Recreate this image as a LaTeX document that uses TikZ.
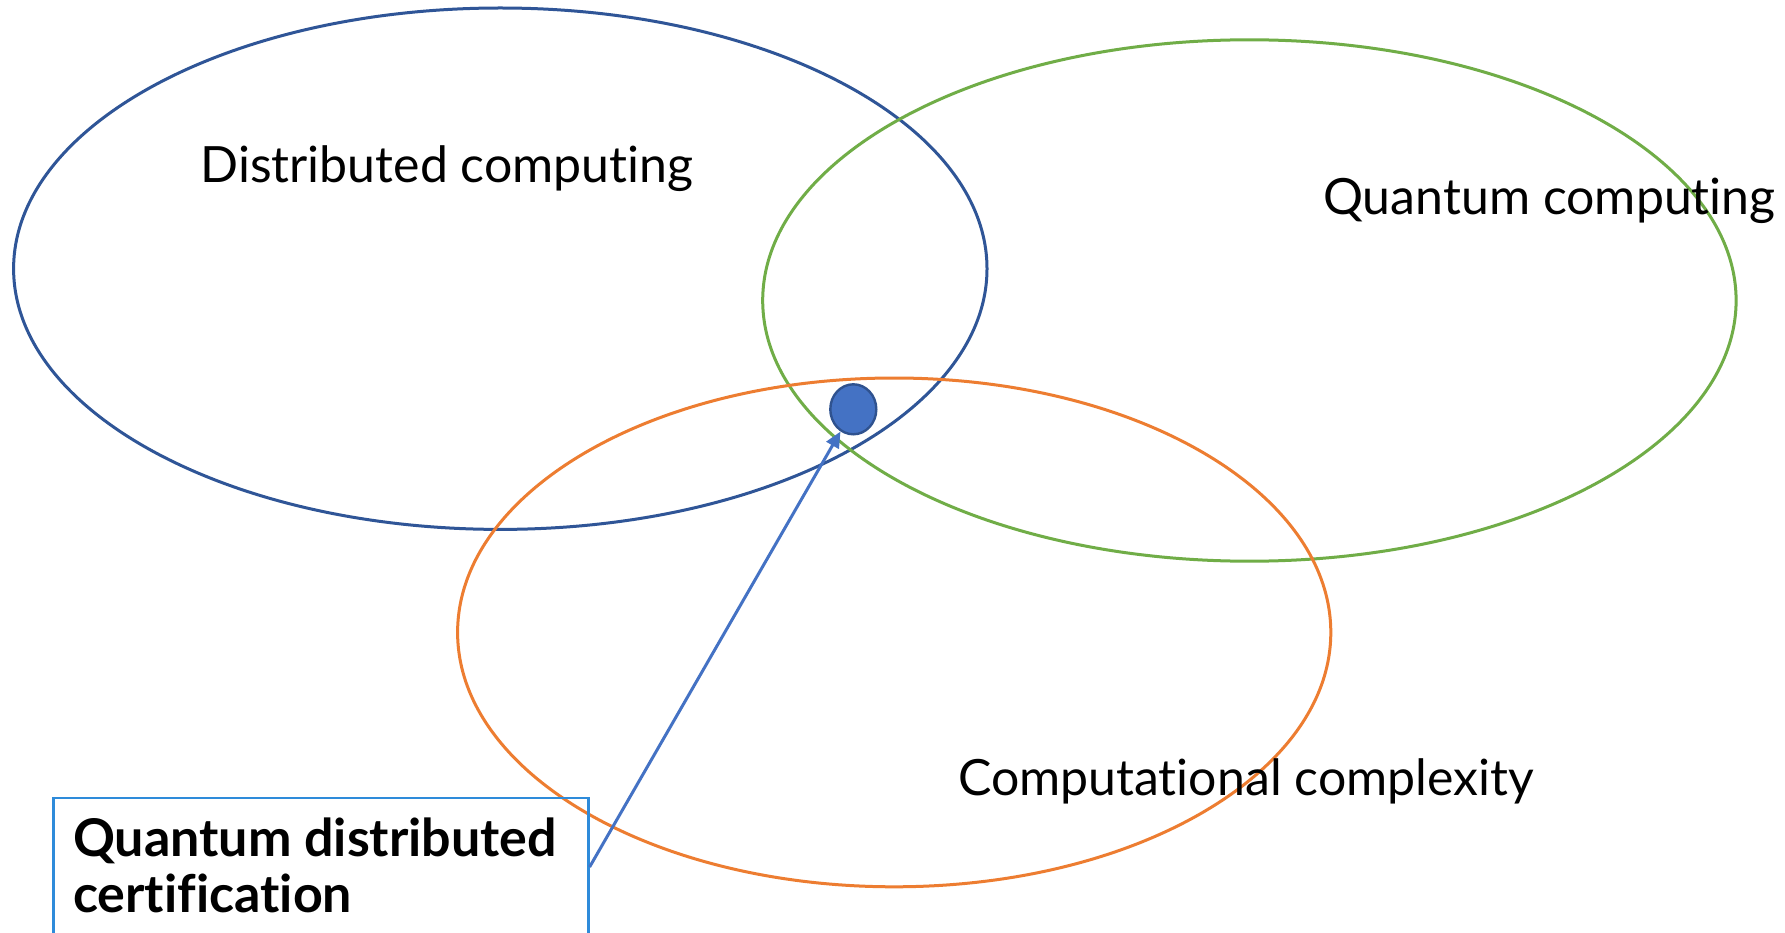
\documentclass[tikz,border=0pt]{standalone}
\usepackage{fontspec}
\setmainfont[Ligatures={NoCommon}]{Lato}
\usetikzlibrary{arrows.meta,shapes.geometric}
\definecolor{distblue}{HTML}{2F5597}
\definecolor{quantgreen}{HTML}{70AD47}
\definecolor{complorange}{HTML}{ED7D31}
\definecolor{dotfill}{HTML}{4472C4}
\definecolor{dotedge}{HTML}{2F528F}
\definecolor{boxedge}{HTML}{2E8BDA}
\begin{document}
\begin{tikzpicture}[x=1pt,y=-1pt,
  field/.style={line width=3pt},
  fieldlabel/.style={font=\fontsize{50}{60}\selectfont, inner sep=0pt},
  callout/.style={draw=boxedge, line width=2.2pt, minimum width=535pt, minimum height=138pt, inner sep=0pt},
  calloutlabel/.style={font=\fontsize{52}{56}\selectfont\bfseries, align=left, inner sep=0pt},
  marker/.style={ellipse, fill=dotfill, draw=dotedge, line width=2.4pt, minimum width=46pt, minimum height=50pt, inner sep=0pt},
  pointer/.style={draw=dotfill, line width=3pt, -{Triangle[length=16pt,width=14pt]}}]
\useasboundingbox (0,0) rectangle (1785,933);
\fill[white] (0,0) rectangle (1785,933);

% the three research fields
\draw[field, distblue] (500.3,268.7) ellipse [x radius=486.7, y radius=260.7];
\draw[field, quantgreen] (1249.4,300.5) ellipse [x radius=486.7, y radius=260.7];
\draw[field, complorange] (894.2,632.4) ellipse [x radius=436.6, y radius=254.4];

\node[fieldlabel] (dist) at (446.9,168.5) {Distributed computing};
\node[fieldlabel] (quant) at (1549.4,200.5) {Quantum computing};
\node[fieldlabel] (compl) at (1246,781) {Computational complexity};

% the common intersection and its callout
\node[marker] (qdc) at (853.3,409.3) {};
\node[callout] (box) at (321,867) {};
\node[calloutlabel, anchor=north west] (boxtext) at (72.9,817.5) {Quantum distributed\\certification};
\draw[pointer] (box.east) -- (qdc);
\end{tikzpicture}
\end{document}
